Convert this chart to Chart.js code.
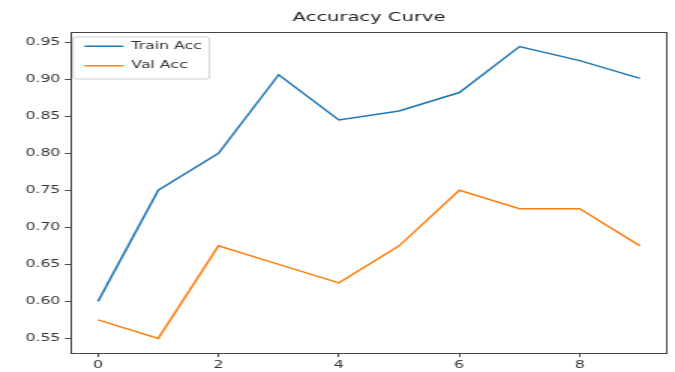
<!DOCTYPE html>
<html>
<head>
<meta charset="utf-8">
<script src="https://cdn.jsdelivr.net/npm/chart.js@4.4.1/dist/chart.umd.min.js"></script>
<style>
  html, body { margin: 0; padding: 0; background: #fff; overflow: hidden; }
  #wrap { position: absolute; left: 0; top: 0; width: 450px; height: 372px; transform: scaleX(1.5); transform-origin: 0 0; }
</style>
</head>
<body>
<div id="wrap"><canvas id="c"></canvas></div>
<script>
const chartTitle = 'Accuracy Curve';
const epochs = [0, 1, 2, 3, 4, 5, 6, 7, 8, 9];
const trainAcc = [0.600, 0.750, 0.800, 0.906, 0.845, 0.857, 0.882, 0.944, 0.925, 0.901];
const valAcc = [0.575, 0.550, 0.675, 0.650, 0.625, 0.675, 0.750, 0.725, 0.725, 0.675];
const seriesNames = ['Train Acc', 'Val Acc'];
const xTicks = [0, 2, 4, 6, 8];
const yTicks = [0.55, 0.60, 0.65, 0.70, 0.75, 0.80, 0.85, 0.90, 0.95];

const FONT = 'DejaVu Sans';
const TEXT = '#333';
const FRAME = '#444';

const allY = trainAcc.concat(valAcc);
const yMinD = Math.min(...allY), yMaxD = Math.max(...allY);
const yPad = (yMaxD - yMinD) * 0.05;
const xPad = (epochs[epochs.length - 1] - epochs[0]) * 0.05;
const xMin = epochs[0] - xPad, xMax = epochs[epochs.length - 1] + xPad;

// keep the in-axes legend anchored to the top of the plot area
const legendAnchor = {
  id: 'legendAnchor',
  afterLayout(chart) {
    const lg = chart.legend;
    if (!lg) return;
    const dy = chart.chartArea.top - lg.top;
    lg.top += dy;
    lg.bottom += dy;
    if (lg.legendHitBoxes) lg.legendHitBoxes.forEach(h => { h.top += dy; });
  }
};

const legendFrame = {
  id: 'legendFrame',
  afterDraw(chart) {
    const lg = chart.legend;
    if (!lg || !lg.legendHitBoxes || !lg.legendHitBoxes.length) return;
    const ca = chart.chartArea;
    const hb = lg.legendHitBoxes;
    let right = 0, bottom = 0;
    hb.forEach(h => { right = Math.max(right, h.left + h.width); bottom = Math.max(bottom, h.top + h.height); });
    const x0 = ca.left + 1.5, y0 = ca.top + 5, x1 = right + 5, y1 = bottom + 8;
    const ctx = chart.ctx;
    ctx.save();
    ctx.strokeStyle = '#d0d0d0';
    ctx.lineWidth = 1;
    ctx.beginPath();
    if (ctx.roundRect) ctx.roundRect(x0, y0, x1 - x0, y1 - y0, 2); else ctx.rect(x0, y0, x1 - x0, y1 - y0);
    ctx.stroke();
    ctx.restore();
  }
};

new Chart(document.getElementById('c'), {
  type: 'line',
  data: {
    datasets: [
      { label: seriesNames[0], data: epochs.map((e, i) => ({ x: e, y: trainAcc[i] })), borderColor: '#1f77b4', backgroundColor: '#1f77b4', borderWidth: 1.5, pointRadius: 0, tension: 0, xAxisID: 'x', yAxisID: 'y' },
      { label: seriesNames[1], data: epochs.map((e, i) => ({ x: e, y: valAcc[i] })), borderColor: '#ff7f0e', backgroundColor: '#ff7f0e', borderWidth: 1.5, pointRadius: 0, tension: 0, xAxisID: 'x', yAxisID: 'y' }
    ]
  },
  options: {
    responsive: true,
    maintainAspectRatio: false,
    animation: false,
    devicePixelRatio: 1,
    layout: { padding: 0 },
    plugins: {
      title: { display: false },
      tooltip: { enabled: false },
      legend: {
        position: 'chartArea',
        align: 'start',
        labels: {
          usePointStyle: true,
          pointStyle: 'line',
          pointStyleWidth: 26,
          padding: 9,
          color: TEXT,
          font: { family: FONT, size: 10.5 }
        }
      }
    },
    scales: {
      x: {
        type: 'linear', position: 'bottom', min: xMin, max: xMax,
        afterBuildTicks: s => { s.ticks = xTicks.map(v => ({ value: v })); },
        afterFit: s => { s.height = 19; },
        ticks: { color: TEXT, font: { family: FONT, size: 10.5 }, padding: 2, maxRotation: 0, autoSkip: false, callback: v => String(v) },
        grid: { display: true, drawOnChartArea: false, drawTicks: true, tickLength: 4, color: FRAME, lineWidth: 1 },
        border: { display: true, color: FRAME, width: 1 }
      },
      x2: {
        type: 'linear', position: 'top', min: xMin, max: xMax,
        afterFit: s => { s.height = 32; },
        ticks: { display: false },
        grid: { display: false, drawTicks: false },
        border: { display: true, color: FRAME, width: 1 },
        title: { display: true, text: chartTitle, color: '#222', font: { family: FONT, size: 13 }, padding: { top: 10, bottom: 0 } }
      },
      y: {
        type: 'linear', position: 'left', min: yMinD - yPad, max: yMaxD + yPad,
        afterBuildTicks: s => { s.ticks = yTicks.map(v => ({ value: v })); },
        afterFit: s => { s.width = 47.3; },
        ticks: { color: TEXT, font: { family: FONT, size: 10.5 }, padding: 3, autoSkip: false, callback: v => Number(v).toFixed(2) },
        grid: { display: true, drawOnChartArea: false, drawTicks: true, tickLength: 4, color: FRAME, lineWidth: 1 },
        border: { display: true, color: FRAME, width: 1 }
      },
      y2: {
        type: 'linear', position: 'right', min: yMinD - yPad, max: yMaxD + yPad,
        afterFit: s => { s.width = 5.3; },
        ticks: { display: false },
        grid: { display: false, drawTicks: false },
        border: { display: true, color: FRAME, width: 1 }
      }
    }
  },
  plugins: [legendAnchor, legendFrame]
});
</script>
</body>
</html>
